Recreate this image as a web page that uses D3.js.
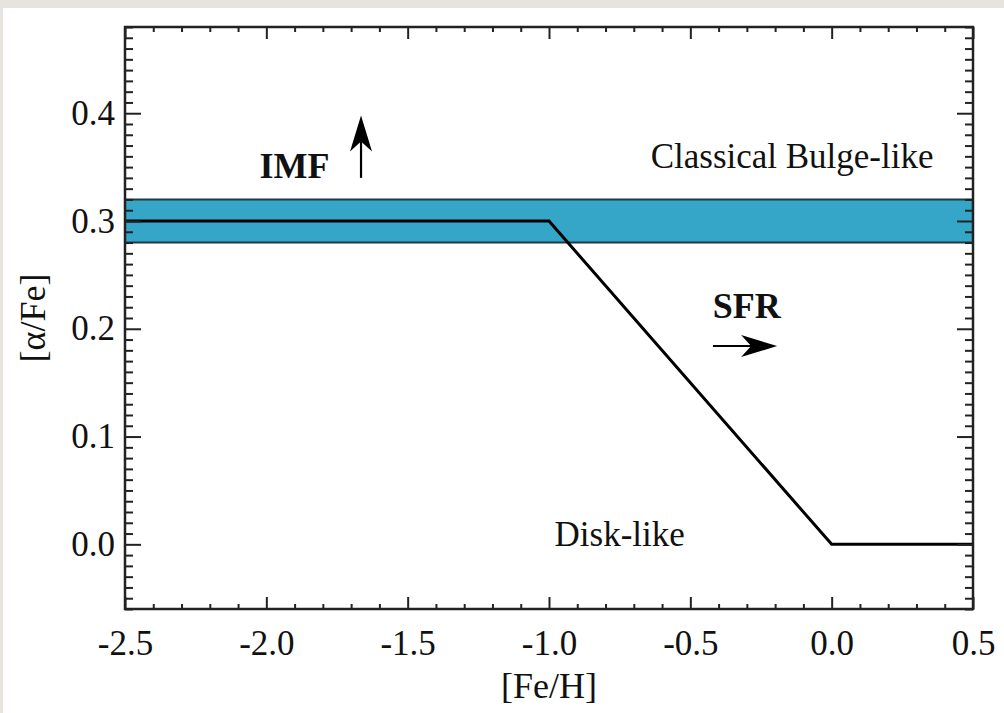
<!DOCTYPE html>
<html>
<head>
<meta charset="utf-8">
<script src="https://cdn.jsdelivr.net/npm/d3@7"></script>
<style>
  html, body { margin: 0; padding: 0; background: #e7e4df; }
  svg { display: block; }
  text { font-family: "Liberation Serif", "Times New Roman", serif; fill: #111; }
</style>
</head>
<body>
<script>
// [alpha/Fe] versus [Fe/H] schematic track
const trackFeH   = [-2.5, -1.0, 0.0, 0.5];
const trackAlpha = [0.30, 0.30, 0.0, 0.0];

// shaded band of classical bulge-like abundance ratios
const bandLow  = 0.28;
const bandHigh = 0.32;

const xDomain = [-2.5, 0.5];
const yDomain = [-0.06, 0.48];
const xMajorTicks = [-2.5, -2.0, -1.5, -1.0, -0.5, 0.0, 0.5];
const yMajorTicks = [0.0, 0.1, 0.2, 0.3, 0.4];
const xTitle = "[Fe/H]";
const yTitle = "[\u03b1/Fe]";

// region labels and trend arrows: [text, x, y]
const regionLabels = [
  ["Classical Bulge-like", -0.14, 0.349],
  ["Disk-like", -0.75, -0.002]
];
const trendLabels = [
  ["IMF", -1.90, 0.340],
  ["SFR", -0.30, 0.210]
];
// arrows: [x0, y0, x1, y1] in data units
const trendArrows = [
  [-1.665, 0.340, -1.665, 0.398],
  [-0.42, 0.184, -0.193, 0.184]
];

const W = 1004, H = 713;
const margin = { left: 125, right: 31, top: 27, bottom: 104 };

const svg = d3.select("body").append("svg")
  .attr("width", W).attr("height", H);

// white panel
svg.append("rect").attr("x", 3).attr("y", 8)
  .attr("width", W - 3).attr("height", H - 8).attr("fill", "#ffffff");

const x = d3.scaleLinear().domain(xDomain).range([margin.left, W - margin.right]);
const y = d3.scaleLinear().domain(yDomain).range([H - margin.bottom, margin.top]);

const x0 = x.range()[0], x1 = x.range()[1];
const y0 = y.range()[0], y1 = y.range()[1];

// band
svg.append("rect")
  .attr("x", x0).attr("width", x1 - x0)
  .attr("y", y(bandHigh)).attr("height", y(bandLow) - y(bandHigh))
  .attr("fill", "#35a6c8");
[bandLow, bandHigh].forEach(v => {
  svg.append("line")
    .attr("x1", x0).attr("x2", x1)
    .attr("y1", y(v)).attr("y2", y(v))
    .attr("stroke", "#1d3b44").attr("stroke-width", 2);
});

// track
const line = d3.line().x(d => x(d[0])).y(d => y(d[1]));
svg.append("path")
  .datum(trackFeH.map((v, i) => [v, trackAlpha[i]]))
  .attr("d", line)
  .attr("fill", "none")
  .attr("stroke", "#000")
  .attr("stroke-width", 3)
  .attr("stroke-linejoin", "miter");

// minor tick values
const xMinor = d3.range(-25, 6).map(i => i / 10).filter(v => !xMajorTicks.some(m => Math.abs(m - v) < 1e-9));
const yMinor = d3.range(-6, 49).map(i => i / 100).filter(v => !yMajorTicks.some(m => Math.abs(m - v) < 1e-9));

const fmt = d => d.toFixed(1);

function styleAxis(g) {
  g.select(".domain").remove();
  g.selectAll(".tick line").attr("stroke", "#222").attr("stroke-width", 2);
  g.selectAll(".tick text")
    .attr("fill", "#111")
    .attr("font-family", "Liberation Serif, Times New Roman, serif")
    .attr("font-size", 35);
}

// bottom
svg.append("g").attr("transform", `translate(0,${y0})`)
  .call(d3.axisBottom(x).tickValues(xMajorTicks).tickFormat(fmt).tickSize(-12).tickPadding(21))
  .call(styleAxis);
svg.append("g").attr("transform", `translate(0,${y0})`)
  .call(d3.axisBottom(x).tickValues(xMinor).tickFormat("").tickSize(-5))
  .call(styleAxis);
// top
svg.append("g").attr("transform", `translate(0,${y1})`)
  .call(d3.axisTop(x).tickValues(xMajorTicks).tickFormat("").tickSize(-12))
  .call(styleAxis);
svg.append("g").attr("transform", `translate(0,${y1})`)
  .call(d3.axisTop(x).tickValues(xMinor).tickFormat("").tickSize(-5))
  .call(styleAxis);
// left
svg.append("g").attr("transform", `translate(${x0},0)`)
  .call(d3.axisLeft(y).tickValues(yMajorTicks).tickFormat(fmt).tickSize(-16).tickPadding(10))
  .call(styleAxis);
svg.append("g").attr("transform", `translate(${x0},0)`)
  .call(d3.axisLeft(y).tickValues(yMinor).tickFormat("").tickSize(-8))
  .call(styleAxis);
// right
svg.append("g").attr("transform", `translate(${x1},0)`)
  .call(d3.axisRight(y).tickValues(yMajorTicks).tickFormat("").tickSize(-16))
  .call(styleAxis);
svg.append("g").attr("transform", `translate(${x1},0)`)
  .call(d3.axisRight(y).tickValues(yMinor).tickFormat("").tickSize(-8))
  .call(styleAxis);

// frame
svg.append("rect")
  .attr("x", x0).attr("y", y1)
  .attr("width", x1 - x0).attr("height", y0 - y1)
  .attr("fill", "none").attr("stroke", "#222").attr("stroke-width", 2.5);

// axis titles
svg.append("text")
  .attr("x", (x0 + x1) / 2).attr("y", 698)
  .attr("text-anchor", "middle")
  .attr("font-size", 36)
  .text(xTitle);
svg.append("text")
  .attr("transform", `translate(45,${(y0 + y1) / 2}) rotate(-90)`)
  .attr("text-anchor", "middle")
  .attr("font-size", 36)
  .text(yTitle);

// region labels
regionLabels.forEach(([t, vx, vy]) => {
  svg.append("text")
    .attr("x", x(vx)).attr("y", y(vy))
    .attr("text-anchor", "middle")
    .attr("font-size", 35)
    .text(t);
});
trendLabels.forEach(([t, vx, vy]) => {
  svg.append("text")
    .attr("x", x(vx)).attr("y", y(vy))
    .attr("text-anchor", "middle")
    .attr("font-size", 36)
    .attr("font-weight", "bold")
    .text(t);
});

// arrows with notched heads
trendArrows.forEach(([ax0, ay0, ax1, ay1]) => {
  const px0 = x(ax0), py0 = y(ay0), px1 = x(ax1), py1 = y(ay1);
  const ang = Math.atan2(py1 - py0, px1 - px0);
  const headLen = 36, headHalf = 11, notch = 10;
  const g = svg.append("g")
    .attr("transform", `translate(${px1},${py1}) rotate(${ang * 180 / Math.PI})`);
  const len = Math.hypot(px1 - px0, py1 - py0);
  g.append("line")
    .attr("x1", -len).attr("y1", 0)
    .attr("x2", -headLen + notch).attr("y2", 0)
    .attr("stroke", "#000").attr("stroke-width", 2.2);
  g.append("path")
    .attr("d", `M0,0 L${-headLen},${-headHalf} L${-headLen + notch},0 L${-headLen},${headHalf} Z`)
    .attr("fill", "#000");
});
</script>
</body>
</html>
